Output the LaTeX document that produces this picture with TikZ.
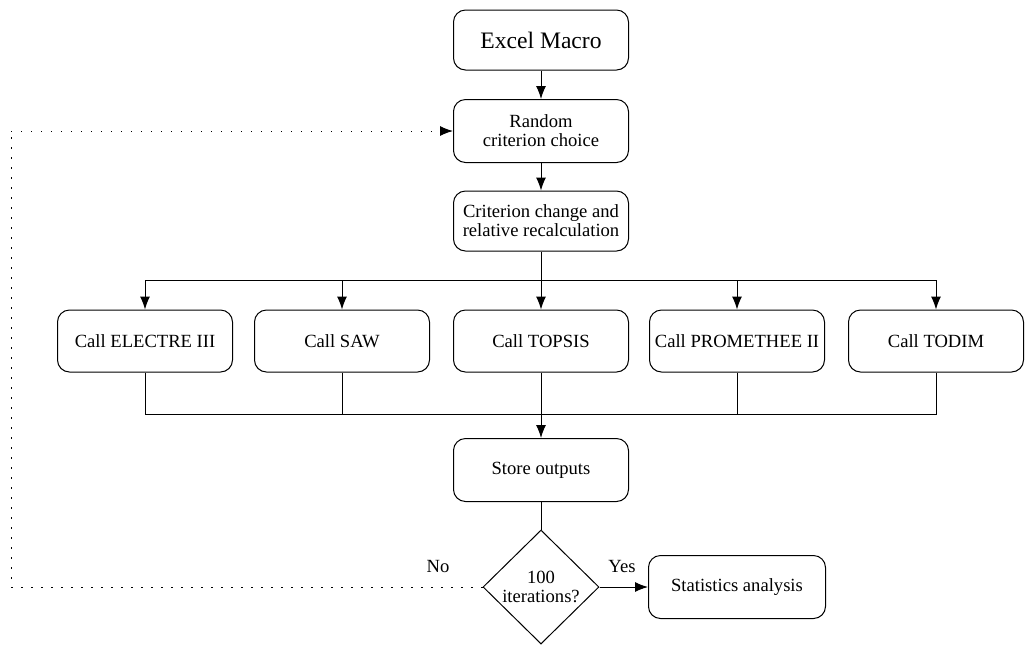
\documentclass[tikz,border=0pt]{standalone}
\usepackage{fontspec}
\setmainfont{Liberation Serif}
\usetikzlibrary{arrows.meta,shapes.geometric,calc}

\begin{document}
\begin{tikzpicture}[x=0.5pt,y=-0.5pt,line width=0.5pt,
	box/.style={draw, rounded corners=6pt, minimum width=87.5pt, minimum height=31pt, align=center, inner sep=1pt, font=\fontsize{9.3}{9.5}\selectfont},
	arr/.style={-{Latex[length=6.5pt,width=5pt]}},
	loop/.style={dash pattern=on 0.6pt off 4.4pt}]
			\useasboundingbox (0,0) rectangle (1025,645);
			\def\h{341}
			\node[box, minimum height=30pt, font=\fontsize{11.8}{12}\selectfont] (macro) at (541,40) {Excel Macro};
			\node[box, minimum height=31.5pt] (random) at (541,131) {Random\\criterion choice};
			\node[box, minimum height=30pt] (change) at (541,221) {Criterion change and\\relative recalculation};
			\foreach \n/\x/\t in {electre/145/ELECTRE III,saw/342/SAW,topsis/541/TOPSIS,promethee/737/PROMETHEE II,todim/936/TODIM}
			\node[box] (\n) at (\x,\h) {Call \t};
			\node[box, minimum height=31.5pt] (store) at (541,470) {Store outputs};
			\node[draw, diamond, inner sep=0pt, minimum width=58pt, minimum height=57pt, align=center, font=\fontsize{9.3}{9.5}\selectfont] (iter) at (541,587) {100\\iterations?};
			\node[box, minimum width=88.5pt, minimum height=31.5pt] (stats) at (737,587) {Statistics analysis};
			\node[font=\fontsize{9.3}{9.5}\selectfont] (no) at (438,566) {No};
			\node[font=\fontsize{9.3}{9.5}\selectfont] (yes) at (622,566) {Yes};
			\path
			(541,280) coordinate (T)
			(541,414) coordinate (B)
			(11,587) coordinate (L1)
			(11,131) coordinate (L2)
			;
			\draw[arr] (macro)--(random);
			\draw[arr] (random)--(change);
			\draw (change)--(T) (electre.north |- T)--(todim.north |- T) (electre.south)--(electre.south |- B)--(todim.south |- B)--(todim.south);
			\foreach \n in {electre,saw,topsis,promethee,todim} \draw[arr] (\n.north |- T)--(\n);
			\foreach \n in {saw,promethee} \draw (\n.south)--(\n.south |- B);
			\draw[arr] (topsis)--(store);
			\draw (store)--(iter);
			\draw[arr] (iter)--(stats);
			\draw[loop] (iter.west)--(L1)--(L2);
			\draw[loop,arr] (L2)--(random);
		\end{tikzpicture}
\end{document}
